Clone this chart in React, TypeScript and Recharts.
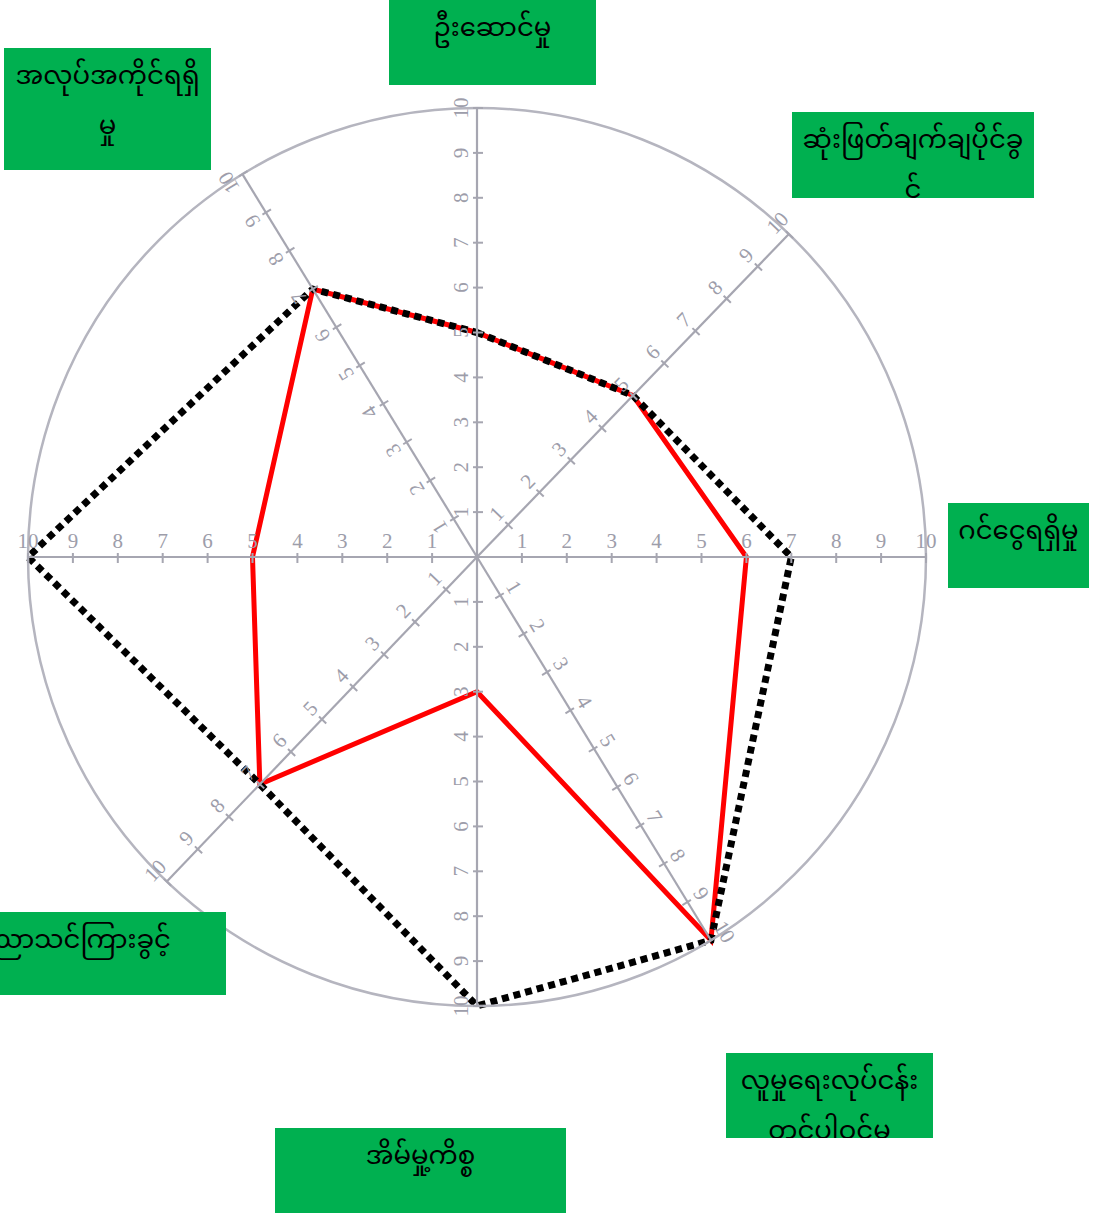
import React from "react";
import { RadarChart, Radar, PolarAngleAxis, PolarRadiusAxis } from "recharts";

// spoke names, clockwise from the top spoke (the left spoke has no label)
const categories = [
  "ဦးဆောင်မှု",
  "ဆုံးဖြတ်ချက်ချပိုင်ခွင့်",
  "ဂင်ငွေရရှိမှု",
  "လူမှုရေးလုပ်ငန်းတွင်ပါဝင်မှု",
  "အိမ်မှု့ကိစ္စ",
  "ပညာသင်ကြားခွင့်",
  "",
  "အလုပ်အကိုင်ရရှိမှု",
];

// the scanned wheel is not evenly spaced: degrees clockwise from 12 o'clock
const bearings = [0, 44, 90, 148.6, 180, 223.7, 270, 328.5];

const redScores = [5, 5, 6, 10, 3, 7, 5, 7];
const dottedScores = [5, 5, 7, 10, 10, 7, 10, 7];

const scaleTicks = [1, 2, 3, 4, 5, 6, 7, 8, 9, 10];

// numbers on these spokes are turned round so they stay readable
const labelFlip = [false, false, false, false, true, true, true, false];

const AXIS = "#a6a6b1";
const CIRCLE = "#b5b5bf";
const NUM = "#9d9daa";
const GREEN = "#00b050";
const MM_FONT =
  "'Noto Sans Myanmar', 'Myanmar Text', 'Pyidaungsu', 'Padauk', 'Noto Sans', sans-serif";

// green label boxes (page coords); tail = chars pushed to a second line
const boxes = [
  { cat: 0, left: 389, top: 0, width: 207, height: 85, tail: 0 },
  { cat: 1, left: 792, top: 112, width: 242, height: 86, tail: 3 },
  { cat: 2, left: 948, top: 503, width: 141, height: 85, tail: 0 },
  { cat: 3, left: 726, top: 1053, width: 207, height: 85, tail: 12 },
  { cat: 4, left: 275, top: 1128, width: 291, height: 85, tail: 0 },
  { cat: 5, left: -80, top: 912, width: 306, height: 83, tail: 0, padRight: 55, align: "right" },
  { cat: 7, left: 4, top: 48, width: 207, height: 122, tail: 3 },
];

const chartData = categories.map((name, i) => ({
  name,
  bearing: bearings[i],
  red: redScores[i],
  dotted: dottedScores[i],
}));

function spokeTick(polarAngle: number, flip: boolean) {
  const rot = -polarAngle + (flip ? 180 : 0);
  return (props: any) => {
    const { x, y, payload } = props;
    if (!payload || !scaleTicks.includes(payload.value)) return <g />;
    return (
      <g transform={`rotate(${rot} ${x} ${y})`}>
        <line x1={x} y1={y - 4} x2={x} y2={y + 6} stroke={AXIS} strokeWidth={2} />
        <text
          x={x}
          y={y - 9}
          textAnchor="middle"
          fontSize={21}
          fontFamily="'Liberation Serif', 'DejaVu Serif', serif"
          fill={NUM}
        >
          {payload.value}
        </text>
      </g>
    );
  };
}

export default function App() {
  return (
    <div
      style={{
        position: "absolute",
        left: 0,
        top: 0,
        width: 1097,
        height: 1215,
        overflow: "hidden",
        background: "#fff",
      }}
    >
      <RadarChart
        width={1097}
        height={1215}
        data={chartData}
        cx={477}
        cy={557}
        outerRadius={449}
        margin={{ top: 0, right: 0, bottom: 0, left: 0 }}
      >
        <PolarAngleAxis
          dataKey="bearing"
          type="number"
          domain={[0, 360]}
          allowDataOverflow
          tick={false}
          tickLine={false}
          axisLineType="circle"
          axisLine={{ stroke: CIRCLE, strokeWidth: 2.5 }}
        />
        {bearings.map((b, i) => (
          <PolarRadiusAxis
            key={i}
            radiusAxisId={i}
            angle={90 - b}
            type="number"
            domain={[0, 10]}
            allowDataOverflow
            tickCount={11}
            axisLine={{ stroke: AXIS, strokeWidth: 2.2 }}
            tick={spokeTick(90 - b, labelFlip[i])}
          />
        ))}
        <Radar
          dataKey="red"
          radiusAxisId={0}
          stroke="#ff0000"
          strokeWidth={5}
          fill="none"
          fillOpacity={0}
          dot={false}
          isAnimationActive={false}
        />
        <Radar
          dataKey="dotted"
          radiusAxisId={0}
          stroke="#000000"
          strokeWidth={7}
          strokeDasharray="7 5"
          fill="none"
          fillOpacity={0}
          dot={false}
          isAnimationActive={false}
        />
      </RadarChart>
      {boxes.map((bx, i) => {
        const name = categories[bx.cat];
        const lines = bx.tail
          ? [name.slice(0, name.length - bx.tail), name.slice(name.length - bx.tail)]
          : [name];
        return (
          <div
            key={i}
            style={{
              position: "absolute",
              left: bx.left,
              top: bx.top,
              width: bx.width,
              height: bx.height,
              background: GREEN,
              overflow: "hidden",
              boxSizing: "border-box",
              paddingTop: 5,
              paddingRight: bx.padRight ?? 0,
              textAlign: (bx.align as any) ?? "center",
              fontFamily: MM_FONT,
              fontSize: 26,
              lineHeight: "50px",
              color: "#000",
            }}
          >
            {lines.map((l, j) => (
              <div key={j} style={{ whiteSpace: "nowrap" }}>
                {l}
              </div>
            ))}
          </div>
        );
      })}
    </div>
  );
}
